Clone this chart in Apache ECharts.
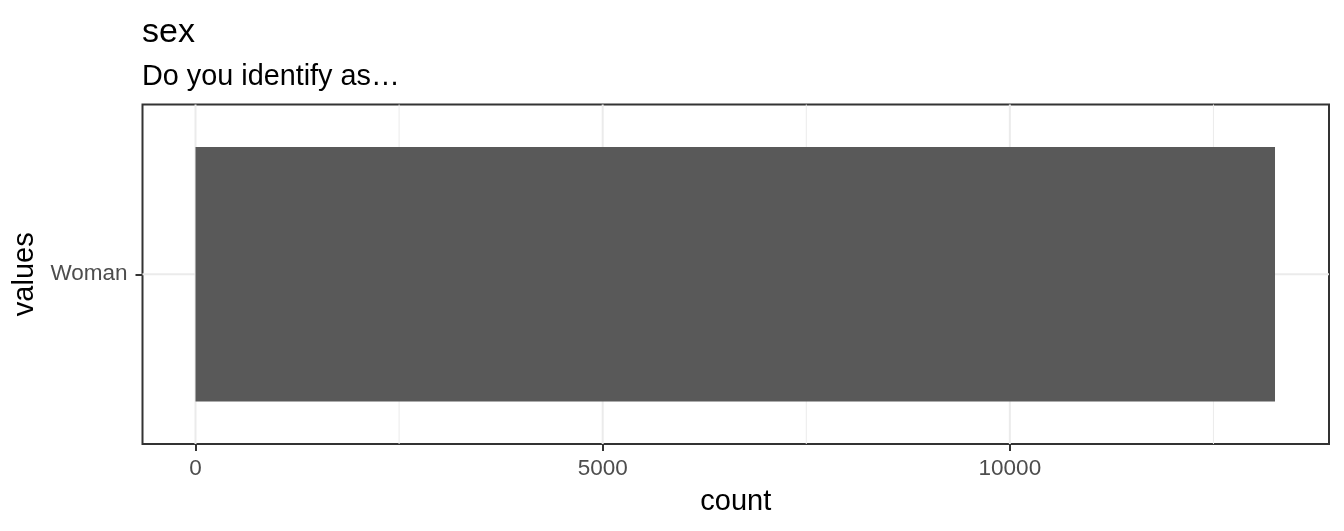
<!DOCTYPE html>
<html>
<head>
<meta charset="utf-8">
<title>sex</title>
<style>
  html, body { margin: 0; padding: 0; background: #fff; }
  #chart { width: 1344px; height: 531px; }
</style>
</head>
<body>
<div id="chart"></div>
<script src="https://cdn.jsdelivr.net/npm/echarts@6/dist/echarts.min.js"></script>
<script>
// data
var categories = ['Woman'];
var counts = [13256];
var xTicks = [0, 5000, 10000];
var majorGrid = [0, 5000, 10000];
var minorGrid = [2500, 7500, 12500];

var FONT = '"Liberation Sans", Arial, sans-serif';

// vertical grid lines drawn from the x scale
function vLine(width) {
    return function (params, api) {
        var cs = params.coordSys;
        var x = api.coord([api.value(0), 0])[0];
        return {
            type: 'line',
            shape: { x1: x, y1: cs.y, x2: x, y2: cs.y + cs.height },
            style: { stroke: '#EBEBEB', lineWidth: width }
        };
    };
}

var option = {
    animation: false,
    backgroundColor: '#fff',
    title: [
        { text: 'sex', left: 142, top: 16, padding: 0,
          textStyle: { fontFamily: FONT, fontSize: 34, fontWeight: 'normal', color: '#000' } },
        { text: 'Do you identify as…', left: 142, top: 63, padding: 0,
          textStyle: { fontFamily: FONT, fontSize: 28.8, fontWeight: 'normal', color: '#000' } }
    ],
    grid: {
        left: 142.5, right: 15, top: 104.5, bottom: 87,
        outerBoundsMode: 'none',
        containLabel: false,
        show: true, borderColor: '#333333', borderWidth: 2, backgroundColor: '#fff'
    },
    xAxis: {
        type: 'value',
        min: -651,
        max: 13919,
        name: 'count',
        nameLocation: 'middle',
        nameGap: 43,
        nameTextStyle: { fontFamily: FONT, fontSize: 29, color: '#000' },
        axisLine: { show: false, onZero: false },
        axisTick: { show: true, length: 7, customValues: xTicks,
                    lineStyle: { color: '#333333', width: 2 } },
        axisLabel: { customValues: xTicks, margin: 13, fontFamily: FONT, fontSize: 22.5, color: '#4D4D4D',
                     formatter: function (v) { return String(v); } },
        splitLine: { show: false }
    },
    yAxis: {
        type: 'category',
        data: categories,
        name: 'values',
        nameLocation: 'middle',
        nameRotate: 90,
        nameGap: 94,
        nameTextStyle: { fontFamily: FONT, fontSize: 29, color: '#000' },
        axisLine: { show: false, onZero: false },
        axisTick: { show: true, length: 7, alignWithLabel: true,
                    lineStyle: { color: '#333333', width: 2 } },
        axisLabel: { margin: 15, fontFamily: FONT, fontSize: 22.5, color: '#4D4D4D' },
        splitLine: { show: false }
    },
    series: [
        {
            type: 'custom', z: 1, silent: true,
            renderItem: vLine(1),
            data: minorGrid.map(function (v) { return [v, 0]; })
        },
        {
            type: 'custom', z: 1, silent: true,
            renderItem: vLine(2),
            data: majorGrid.map(function (v) { return [v, 0]; })
        },
        {
            type: 'custom', z: 1, silent: true,
            renderItem: function (params, api) {
                var cs = params.coordSys;
                var y = api.coord([0, api.value(1)])[1];
                return {
                    type: 'line',
                    shape: { x1: cs.x, y1: y, x2: cs.x + cs.width, y2: y },
                    style: { stroke: '#EBEBEB', lineWidth: 2 }
                };
            },
            data: categories.map(function (c) { return [0, c]; })
        },
        {
            type: 'bar', z: 2,
            data: counts,
            barWidth: 254.6,
            itemStyle: { color: '#595959' }
        }
    ]
};

var chart = echarts.init(document.getElementById('chart'));
chart.setOption(option);
</script>
</body>
</html>
